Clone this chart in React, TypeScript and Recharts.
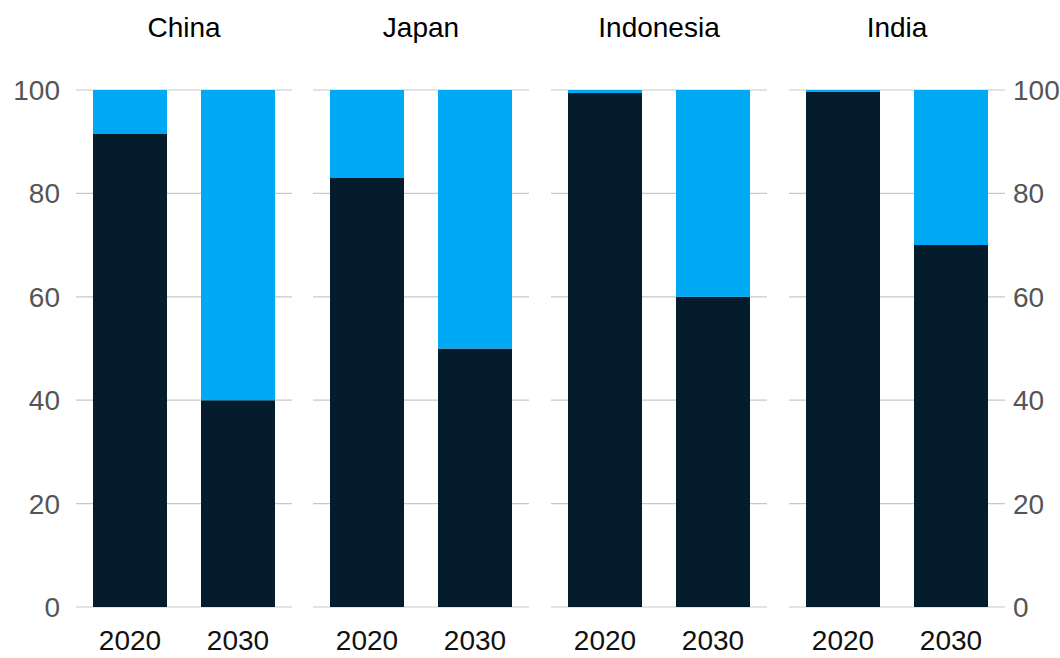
import { BarChart, Bar, XAxis, YAxis, CartesianGrid } from "recharts";

const countries = ["China", "Japan", "Indonesia", "India"];
const years = ["2020", "2030"];
const darkShare = [
  [91.5, 40],
  [83, 50],
  [99.4, 60],
  [99.7, 70],
];
const blueShare = [
  [8.5, 60],
  [17, 50],
  [0.6, 40],
  [0.3, 30],
];
const yTicks = [0, 20, 40, 60, 80, 100];

const DARK = "#051c2c";
const BLUE = "#00a9f4";
const FONT = "'Liberation Sans', Arial, Helvetica, sans-serif";

const PLOT_W = 216;
const PANEL_X = [76, 313, 551, 789];

interface PanelProps {
  idx: number;
  axis: "left" | "right" | "none";
}

function Panel({ idx, axis }: PanelProps) {
  const data = years.map((y, i) => ({ year: y, dark: darkShare[idx][i], blue: blueShare[idx][i] }));
  const axisW = axis === "left" ? 76 : axis === "right" ? 60 : 0;
  const width = PLOT_W + axisW;
  const left = axis === "left" ? 0 : PANEL_X[idx];
  return (
    <div style={{ position: "absolute", left, top: 0 }}>
      <div
        style={{
          position: "absolute",
          left: axis === "left" ? axisW : 0,
          width: PLOT_W,
          top: 12,
          textAlign: "center",
          fontFamily: FONT,
          fontSize: 28,
          color: "#000",
        }}
      >
        {countries[idx]}
      </div>
      <BarChart
        width={width}
        height={658}
        data={data}
        margin={{ top: 90, right: 0, bottom: 0, left: 0 }}
        barCategoryGap={17}
      >
        <CartesianGrid horizontal vertical={false} stroke="#c8c8c8" strokeWidth={1.2} />
        <XAxis
          dataKey="year"
          axisLine={false}
          tickLine={false}
          tickSize={0}
          tickMargin={23}
          height={51}
          tick={{ fontSize: 28, fill: "#111", fontFamily: FONT }}
        />
        <YAxis
          domain={[0, 100]}
          ticks={yTicks}
          hide={axis === "none"}
          orientation={axis === "right" ? "right" : "left"}
          width={axisW || 0}
          axisLine={false}
          tickLine={false}
          tickSize={0}
          tickMargin={axis === "right" ? 8 : 16}
          tick={{ fontSize: 28, fill: "#555", fontFamily: FONT }}
        />
        <Bar dataKey="dark" stackId="a" fill={DARK} isAnimationActive={false} />
        <Bar dataKey="blue" stackId="a" fill={BLUE} isAnimationActive={false} />
      </BarChart>
    </div>
  );
}

export default function App() {
  return (
    <div style={{ position: "absolute", left: 0, top: 0, width: 1060, height: 658, background: "#fff" }}>
      <Panel idx={0} axis="left" />
      <Panel idx={1} axis="none" />
      <Panel idx={2} axis="none" />
      <Panel idx={3} axis="right" />
    </div>
  );
}
